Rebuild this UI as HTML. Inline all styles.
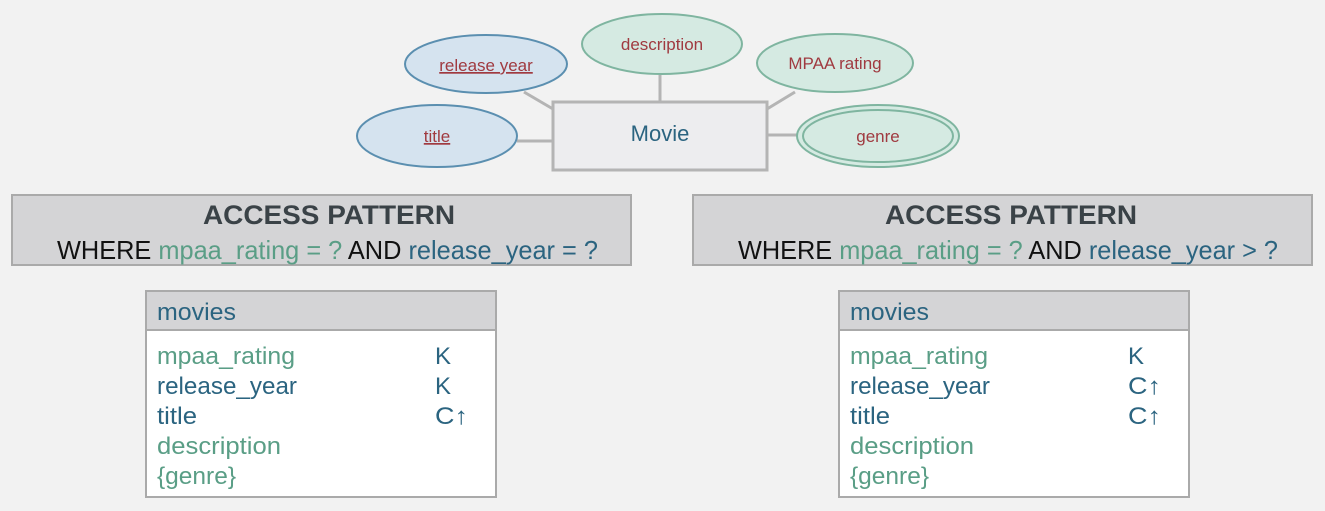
<!DOCTYPE html>
<html><head><meta charset="utf-8"><style>
html,body{margin:0;padding:0;background:#f2f2f2;}
svg{display:block;font-family:"Liberation Sans",sans-serif;}
</style></head><body>
<svg width="1325" height="511" viewBox="0 0 1325 511" xmlns="http://www.w3.org/2000/svg">
<rect width="1325" height="511" fill="#f2f2f2"/>
<g stroke="#b4b4b4" stroke-width="3" fill="none">
<line x1="517" y1="141" x2="553" y2="141"/>
<line x1="524" y1="92" x2="553" y2="109"/>
<line x1="660" y1="75" x2="660" y2="102"/>
<line x1="795" y1="92" x2="767" y2="109"/>
<line x1="767" y1="135" x2="797" y2="135"/>
</g>
<rect x="553" y="102" width="214" height="68" fill="#ededef" stroke="#b4b4b4" stroke-width="3"/>
<text x="660" y="141" font-size="22" fill="#2b6480" text-anchor="middle">Movie</text>
<ellipse cx="486" cy="64" rx="81" ry="29" fill="#d5e3ef" stroke="#5b8fb0" stroke-width="2"/>
<text x="486" y="71" font-size="17" fill="#a03a40" text-anchor="middle" text-decoration="underline">release year</text>
<ellipse cx="662" cy="44" rx="80" ry="30" fill="#d5eae2" stroke="#7fb5a0" stroke-width="2"/>
<text x="662" y="50" font-size="17" fill="#a03a40" text-anchor="middle">description</text>
<ellipse cx="835" cy="63" rx="78" ry="29" fill="#d5eae2" stroke="#7fb5a0" stroke-width="2"/>
<text x="835" y="69" font-size="17" fill="#a03a40" text-anchor="middle">MPAA rating</text>
<ellipse cx="437" cy="136" rx="80" ry="31" fill="#d5e3ef" stroke="#5b8fb0" stroke-width="2"/>
<text x="437" y="142" font-size="17" fill="#a03a40" text-anchor="middle" text-decoration="underline">title</text>
<ellipse cx="878" cy="136" rx="81" ry="31" fill="#d5eae2" stroke="#7fb5a0" stroke-width="2"/>
<ellipse cx="878" cy="136" rx="75" ry="26" fill="none" stroke="#7fb5a0" stroke-width="2"/>
<text x="878" y="142" font-size="17" fill="#a03a40" text-anchor="middle">genre</text>

<rect x="12" y="195" width="619" height="70" fill="#d4d4d6" stroke="#aaa" stroke-width="2"/>
<text x="203" y="224" font-size="27" font-weight="bold" fill="#3a4247" textLength="252" lengthAdjust="spacingAndGlyphs">ACCESS PATTERN</text>
<text x="57" y="259" font-size="26" textLength="541" lengthAdjust="spacingAndGlyphs"><tspan fill="#111">WHERE </tspan><tspan fill="#5a9e86">mpaa_rating = ? </tspan><tspan fill="#111"> AND </tspan><tspan fill="#2b6480"> release_year = ?</tspan></text>

<rect x="693" y="195" width="619" height="70" fill="#d4d4d6" stroke="#aaa" stroke-width="2"/>
<text x="885" y="224" font-size="27" font-weight="bold" fill="#3a4247" textLength="252" lengthAdjust="spacingAndGlyphs">ACCESS PATTERN</text>
<text x="738" y="259" font-size="26" textLength="540" lengthAdjust="spacingAndGlyphs"><tspan fill="#111">WHERE </tspan><tspan fill="#5a9e86">mpaa_rating = ? </tspan><tspan fill="#111"> AND </tspan><tspan fill="#2b6480"> release_year &gt; ?</tspan></text>

<rect x="146" y="291" width="350" height="206" fill="#fff" stroke="#aaa" stroke-width="2"/>
<rect x="146" y="291" width="350" height="39" fill="#d4d4d6" stroke="#aaa" stroke-width="2"/>
<g font-size="24" lengthAdjust="spacingAndGlyphs">
<text x="157" y="320" fill="#2b6480" textLength="79" lengthAdjust="spacingAndGlyphs">movies</text>
<text x="157" y="364" fill="#5a9e86" textLength="138" lengthAdjust="spacingAndGlyphs">mpaa_rating</text>
<text x="157" y="394" fill="#2b6480" textLength="140" lengthAdjust="spacingAndGlyphs">release_year</text>
<text x="157" y="424" fill="#2b6480" textLength="40" lengthAdjust="spacingAndGlyphs">title</text>
<text x="157" y="454" fill="#5a9e86" textLength="124" lengthAdjust="spacingAndGlyphs">description</text>
<text x="157" y="484" fill="#5a9e86" textLength="79" lengthAdjust="spacingAndGlyphs">{genre}</text>
<text x="435" y="364" fill="#2b6480">K</text>
<text x="435" y="394" fill="#2b6480">K</text>
<text x="435" y="424" fill="#2b6480" textLength="33" lengthAdjust="spacingAndGlyphs">C↑</text>
</g>

<rect x="839" y="291" width="350" height="206" fill="#fff" stroke="#aaa" stroke-width="2"/>
<rect x="839" y="291" width="350" height="39" fill="#d4d4d6" stroke="#aaa" stroke-width="2"/>
<g font-size="24">
<text x="850" y="320" fill="#2b6480" textLength="79" lengthAdjust="spacingAndGlyphs">movies</text>
<text x="850" y="364" fill="#5a9e86" textLength="138" lengthAdjust="spacingAndGlyphs">mpaa_rating</text>
<text x="850" y="394" fill="#2b6480" textLength="140" lengthAdjust="spacingAndGlyphs">release_year</text>
<text x="850" y="424" fill="#2b6480" textLength="40" lengthAdjust="spacingAndGlyphs">title</text>
<text x="850" y="454" fill="#5a9e86" textLength="124" lengthAdjust="spacingAndGlyphs">description</text>
<text x="850" y="484" fill="#5a9e86" textLength="79" lengthAdjust="spacingAndGlyphs">{genre}</text>
<text x="1128" y="364" fill="#2b6480">K</text>
<text x="1128" y="394" fill="#2b6480" textLength="33" lengthAdjust="spacingAndGlyphs">C↑</text>
<text x="1128" y="424" fill="#2b6480" textLength="33" lengthAdjust="spacingAndGlyphs">C↑</text>
</g>
</svg>
</body></html>
